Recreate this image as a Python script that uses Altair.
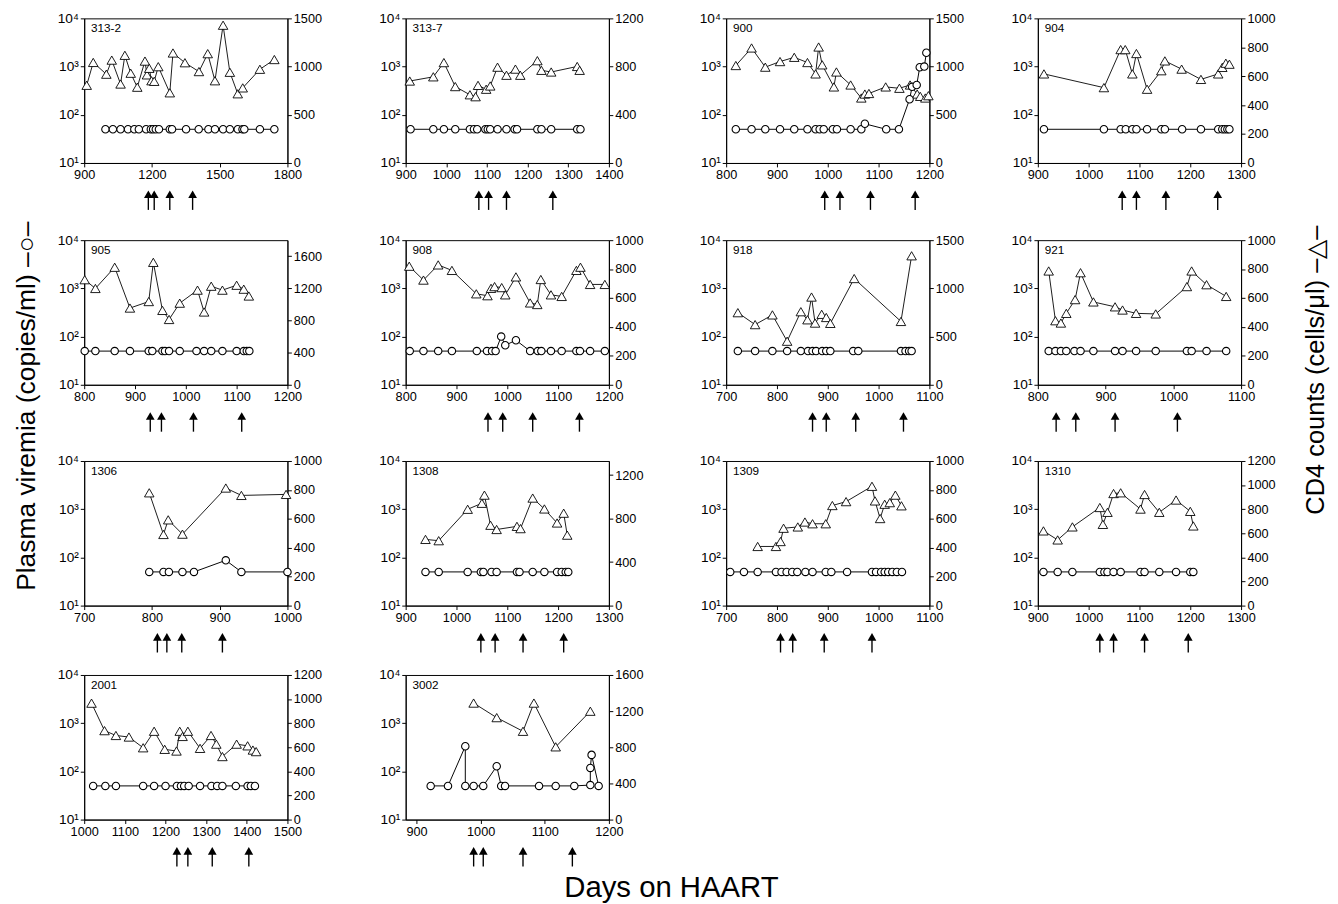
import altair as alt
import pandas as pd

FONT = "Liberation Sans"
W, H = 208, 148

LEFT_TITLE = "Plasma viremia (copies/ml) –○–"
RIGHT_TITLE = "CD4 counts (cells/μl) –△–"
BOTTOM_TITLE = "Days on HAART"

VIR_TICKS = [10, 100, 1000, 10000]

P313_2 = dict(
    name="313-2", x_domain=[900, 1800], x_ticks=[900, 1200, 1500, 1800],
    cd4_domain=[0, 1500], cd4_ticks=[0, 500, 1000, 1500],
    cd4_day=[911, 940, 998, 1022, 1061, 1080, 1106, 1135, 1169, 1178, 1188, 1198, 1210,
             1228, 1279, 1293, 1346, 1408, 1447, 1479, 1515, 1545, 1580, 1602, 1678, 1742],
    cd4=[806, 1043, 921, 1067, 819, 1117, 931, 786, 1057, 914, 982, 853, 847,
         999, 728, 1141, 1040, 948, 1134, 853, 1429, 941, 718, 779, 972, 1073],
    vir_day=[994, 1027, 1061, 1094, 1122, 1142, 1174, 1195, 1205, 1217, 1231, 1279,
             1289, 1351, 1407, 1450, 1479, 1515, 1545, 1580, 1601, 1609, 1678, 1742],
    vir=[50, 50, 50, 50, 50, 50, 50, 50, 50, 50, 50, 50,
         50, 50, 50, 50, 50, 50, 50, 50, 50, 50, 50, 50],
    arrows=[1184, 1210, 1279, 1380],
)

P313_7 = dict(
    name="313-7", x_domain=[900, 1400], x_ticks=[900, 1000, 1100, 1200, 1300, 1400],
    cd4_domain=[0, 1200], cd4_ticks=[0, 400, 800, 1200],
    cd4_day=[910, 968, 994, 1022, 1058, 1072, 1078, 1098, 1108, 1126, 1148, 1170, 1182,
             1224, 1234, 1258, 1322, 1328],
    cd4=[680, 715, 833, 634, 566, 550, 644, 612, 639, 795, 728, 779, 728,
         849, 769, 755, 801, 769],
    vir_day=[912, 968, 994, 1022, 1058, 1068, 1076, 1096, 1102, 1108, 1126, 1148, 1168,
             1174, 1224, 1234, 1258, 1322, 1330],
    vir=[50, 50, 50, 50, 50, 50, 50, 50, 50, 50, 50, 50, 50,
         50, 50, 50, 50, 50, 50],
    arrows=[1080, 1104, 1148, 1262],
)

P900 = dict(
    name="900", x_domain=[800, 1200], x_ticks=[800, 900, 1000, 1100, 1200],
    cd4_domain=[0, 1500], cd4_ticks=[0, 500, 1000, 1500],
    cd4_day=[819, 850, 877, 906, 934, 960, 976, 982, 989, 1012, 1017, 1045, 1066, 1073,
             1081, 1114, 1141, 1162, 1176, 1182, 1192, 1198],
    cd4=[1011, 1193, 994, 1052, 1096, 1042, 924, 1203, 1018, 789, 944, 809, 674, 715,
         721, 789, 775, 809, 715, 691, 674, 698],
    vir_day=[819, 850, 877, 906, 934, 960, 976, 984, 992, 1010, 1018, 1045, 1066, 1073,
             1115, 1140, 1161, 1166, 1175, 1181, 1190, 1194],
    vir=[50, 50, 50, 50, 50, 50, 50, 50, 50, 50, 50, 50, 50, 65,
         50, 50, 210, 380, 414, 970, 1000, 1940],
    arrows=[994, 1024, 1084, 1172],
)

P904 = dict(
    name="904", x_domain=[900, 1300], x_ticks=[900, 1000, 1100, 1200, 1300],
    cd4_domain=[0, 1000], cd4_ticks=[0, 200, 400, 600, 800, 1000],
    cd4_day=[912, 1030, 1063, 1072, 1086, 1094, 1115, 1143, 1150, 1183, 1221, 1255, 1263,
             1270, 1277],
    cd4=[616, 521, 784, 784, 616, 757, 510, 638, 706, 649, 578, 616, 661, 690, 683],
    vir_day=[912, 1030, 1063, 1073, 1086, 1094, 1115, 1143, 1150, 1184, 1221, 1255, 1263,
             1268, 1273, 1277],
    vir=[50, 50, 50, 50, 50, 50, 50, 50, 50, 50, 50, 50, 50, 50, 50, 50],
    arrows=[1066, 1094, 1152, 1254],
)

P905 = dict(
    name="905", x_domain=[800, 1200], x_ticks=[800, 900, 1000, 1100, 1200],
    cd4_domain=[0, 1800], cd4_ticks=[0, 400, 800, 1200, 1600],
    cd4_day=[801, 822, 860, 890, 927, 936, 954, 967, 988, 1023, 1036, 1050, 1072, 1100,
             1114, 1124],
    cd4=[1308, 1199, 1463, 955, 1036, 1524, 926, 813, 1016, 1178, 906, 1227, 1178, 1239,
         1190, 1105],
    vir_day=[801, 822, 860, 890, 927, 934, 954, 959, 967, 988, 1021, 1036, 1050, 1072,
             1100, 1114, 1120, 1125],
    vir=[50, 50, 50, 50, 50, 50, 50, 50, 50, 50, 50, 50, 50, 50, 50, 50, 50, 50],
    arrows=[930, 952, 1015, 1110],
)

P908 = dict(
    name="908", x_domain=[800, 1200], x_ticks=[800, 900, 1000, 1100, 1200],
    cd4_domain=[0, 1000], cd4_ticks=[0, 200, 400, 600, 800, 1000],
    cd4_day=[807, 835, 864, 891, 939, 961, 968, 975, 989, 996, 1017, 1045, 1059, 1066,
             1086, 1107, 1136, 1144, 1163, 1192],
    cd4=[820, 724, 829, 791, 629, 616, 667, 679, 672, 622, 746, 566, 555, 728,
         622, 611, 791, 813, 694, 694],
    vir_day=[808, 835, 864, 891, 940, 960, 970, 977, 988, 996, 1017, 1045, 1060, 1067,
             1086, 1107, 1136, 1143, 1163, 1192],
    vir=[50, 50, 50, 50, 50, 50, 50, 50, 100, 66, 84, 50, 50, 50,
         50, 50, 50, 50, 50, 50],
    arrows=[962, 991, 1050, 1142],
)

P918 = dict(
    name="918", x_domain=[700, 1100], x_ticks=[700, 800, 900, 1000, 1100],
    cd4_domain=[0, 1500], cd4_ticks=[0, 500, 1000, 1500],
    cd4_day=[723, 757, 791, 820, 847, 860, 868, 875, 888, 897, 905, 952, 1044, 1065],
    cd4=[748, 624, 725, 452, 758, 674, 910, 640, 731, 698, 637, 1102, 657, 1338],
    vir_day=[723, 757, 791, 820, 847, 861, 870, 877, 889, 897, 905, 950, 960, 1044,
             1053, 1060, 1065],
    vir=[50, 50, 50, 50, 50, 50, 50, 50, 50, 50, 50, 50, 50, 50, 50, 50, 50],
    arrows=[870, 897, 955, 1049],
)

P921 = dict(
    name="921", x_domain=[800, 1100], x_ticks=[800, 900, 1000, 1100],
    cd4_domain=[0, 1000], cd4_ticks=[0, 200, 400, 600, 800, 1000],
    cd4_day=[816, 826, 834, 842, 855, 863, 882, 914, 925, 945, 974, 1020, 1027, 1049, 1078],
    cd4=[787, 443, 427, 494, 589, 775, 573, 539, 517, 494, 490, 679, 787, 692, 611],
    vir_day=[816, 826, 834, 842, 854, 863, 882, 914, 925, 945, 974, 1020, 1027, 1049, 1078],
    vir=[50, 50, 50, 50, 50, 50, 50, 50, 50, 50, 50, 50, 50, 50, 50],
    arrows=[827, 856, 914, 1006],
)

P1306 = dict(
    name="1306", x_domain=[700, 1000], x_ticks=[700, 800, 900, 1000],
    cd4_domain=[0, 1000], cd4_ticks=[0, 200, 400, 600, 800, 1000],
    cd4_day=[796, 817, 824, 845, 909, 932, 998],
    cd4=[780, 492, 593, 494, 813, 762, 769],
    vir_day=[796, 817, 825, 845, 862, 909, 932, 1000],
    vir=[50, 50, 50, 50, 50, 87, 50, 50],
    arrows=[808, 822, 844, 904],
)

P1308 = dict(
    name="1308", x_domain=[900, 1300], x_ticks=[900, 1000, 1100, 1200, 1300],
    cd4_domain=[0, 1330], cd4_ticks=[0, 400, 800, 1200],
    cd4_day=[939, 965, 1022, 1050, 1055, 1067, 1079, 1119, 1126, 1150, 1173, 1198, 1211, 1218],
    cd4=[609, 597, 886, 941, 1016, 739, 700, 729, 708, 989, 889, 760, 850, 648],
    vir_day=[939, 965, 1022, 1048, 1053, 1069, 1079, 1119, 1124, 1150, 1173, 1198, 1207,
             1215, 1220],
    vir=[50, 50, 50, 50, 50, 50, 50, 50, 50, 50, 50, 50, 50, 50, 50],
    arrows=[1048, 1076, 1131, 1211],
)

P1309 = dict(
    name="1309", x_domain=[700, 1100], x_ticks=[700, 800, 900, 1000, 1100],
    cd4_domain=[0, 1000], cd4_ticks=[0, 200, 400, 600, 800, 1000],
    cd4_day=[762, 798, 807, 813, 841, 855, 870, 896, 909, 936, 987, 993, 1003, 1012,
             1022, 1033, 1045],
    cd4=[409, 409, 443, 535, 544, 578, 566, 566, 692, 719, 825, 724, 602, 701,
         712, 764, 690],
    vir_day=[708, 735, 762, 798, 809, 819, 830, 840, 856, 870, 896, 907, 938, 987, 995,
             1005, 1012, 1019, 1027, 1036, 1046],
    vir=[50, 50, 50, 50, 50, 50, 50, 50, 50, 50, 50, 50, 50, 50, 50,
         50, 50, 50, 50, 50, 50],
    arrows=[807, 831, 893, 987],
)

P1310 = dict(
    name="1310", x_domain=[900, 1300], x_ticks=[900, 1000, 1100, 1200, 1300],
    cd4_domain=[0, 1200], cd4_ticks=[0, 200, 400, 600, 800, 1000, 1200],
    cd4_day=[911, 939, 968, 1022, 1028, 1037, 1049, 1063, 1102, 1110, 1139, 1172, 1200, 1206],
    cd4=[620, 545, 653, 814, 674, 774, 930, 936, 801, 922, 774, 876, 782, 661],
    vir_day=[911, 939, 968, 1022, 1031, 1037, 1049, 1063, 1102, 1110, 1139, 1172, 1200, 1206],
    vir=[50, 50, 50, 50, 50, 50, 50, 50, 50, 50, 50, 50, 50, 50],
    arrows=[1022, 1049, 1110, 1196],
)

P2001 = dict(
    name="2001", x_domain=[1000, 1500], x_ticks=[1000, 1100, 1200, 1300, 1400, 1500],
    cd4_domain=[0, 1200], cd4_ticks=[0, 200, 400, 600, 800, 1000, 1200],
    cd4_day=[1018, 1050, 1078, 1110, 1145, 1172, 1198, 1227, 1235, 1242, 1255, 1285, 1312,
             1325, 1340, 1375, 1402, 1415, 1423],
    cd4=[966, 738, 698, 685, 596, 733, 583, 569, 733, 690, 733, 591, 698,
         626, 523, 626, 612, 577, 564],
    vir_day=[1022, 1052, 1078, 1145, 1172, 1200, 1228, 1238, 1246, 1257, 1285, 1313, 1327,
             1340, 1373, 1402, 1410, 1420],
    vir=[50, 50, 50, 50, 50, 50, 50, 50, 50, 50, 50, 50, 50, 50, 50, 50, 50, 50],
    arrows=[1228, 1255, 1315, 1405],
)

P3002 = dict(
    name="3002", x_domain=[883, 1200], x_ticks=[900, 1000, 1100, 1200],
    cd4_domain=[0, 1600], cd4_ticks=[0, 400, 800, 1200, 1600],
    cd4_day=[989, 1025, 1066, 1083, 1117, 1171],
    cd4=[1289, 1128, 977, 1289, 805, 1199],
    vir_day=[922, 949, 976, 976, 989, 1004, 1025, 1032, 1038, 1091, 1117, 1146, 1171,
             1171, 1173, 1184],
    vir=[50, 50, 333, 50, 50, 50, 128, 50, 50, 50, 50, 50, 52, 118, 220, 50],
    arrows=[989, 1004, 1066, 1143],
)

ROWS = [
    [P313_2, P313_7, P900, P904],
    [P905, P908, P918, P921],
    [P1306, P1308, P1309, P1310],
    [P2001, P3002],
]

LOG_LABEL = ("datum.value == 10 ? '10¹' : datum.value == 100 ? '10²' : "
             "datum.value == 1000 ? '10³' : '10⁴'")


def make_panel(p):
    xs = alt.X("day:Q",
               scale=alt.Scale(domain=p["x_domain"], nice=False, zero=False),
               axis=alt.Axis(values=p["x_ticks"], format="d", title=None, grid=False,
                             labelOverlap=False, labelFlush=False))
    cd4_df = pd.DataFrame({"day": p["cd4_day"], "cd4": p["cd4"],
                           "i": list(range(len(p["cd4"])))})
    vir_df = pd.DataFrame({"day": p["vir_day"], "vir": p["vir"],
                           "i": list(range(len(p["vir"])))})
    arr_df = pd.DataFrame({"day": p["arrows"]})

    cd4_layer = alt.Chart(cd4_df).mark_line(
        color="black", strokeWidth=0.9,
        point=alt.OverlayMarkDef(shape="triangle-up", filled=True, fill="white",
                                 stroke="black", strokeWidth=0.9, size=95, opacity=1),
    ).encode(
        x=xs,
        y=alt.Y("cd4:Q", scale=alt.Scale(domain=p["cd4_domain"], nice=False, zero=False),
                axis=alt.Axis(orient="right", values=p["cd4_ticks"], format="d",
                              title=None, grid=False, labelOverlap=False)),
        order=alt.Order("i:Q"),
    )
    vir_layer = alt.Chart(vir_df).mark_line(
        color="black", strokeWidth=1,
        point=alt.OverlayMarkDef(shape="circle", filled=True, fill="white",
                                 stroke="black", strokeWidth=1.1, size=58, opacity=1),
    ).encode(
        x=xs,
        y=alt.Y("vir:Q", scale=alt.Scale(type="log", domain=[10, 10000], nice=False),
                axis=alt.Axis(orient="left", values=VIR_TICKS, labelExpr=LOG_LABEL,
                              title=None, grid=False, labelOverlap=False,
                              labelFontSize=14)),
        order=alt.Order("i:Q"),
    )
    shafts = alt.Chart(arr_df).mark_rule(color="black", strokeWidth=1.4).encode(
        x=xs, y=alt.value(H + 35), y2=alt.value(H + 48))
    heads = alt.Chart(arr_df).mark_point(
        shape="triangle-up", filled=True, color="black", size=80, opacity=1
    ).encode(x=xs, y=alt.value(H + 32))
    label = alt.Chart(pd.DataFrame({"t": [p["name"]]})).mark_text(
        align="left", baseline="top", font=FONT, fontSize=12, color="black"
    ).encode(text="t:N", x=alt.value(7), y=alt.value(5))

    return alt.layer(cd4_layer, vir_layer, shafts, heads, label).resolve_scale(
        y="independent").properties(width=W, height=H)


def make_row(panels):
    ch = [make_panel(p) for p in panels]
    if len(ch) == 4:
        right = alt.hconcat(ch[2], ch[3], spacing=46)
        right = alt.hconcat(ch[1], right, spacing=55)
        return alt.hconcat(ch[0], right, spacing=56)
    return alt.hconcat(ch[0], ch[1], spacing=56)


r = [make_row(p) for p in ROWS]
grid = alt.vconcat(r[2], r[3], spacing=13)
grid = alt.vconcat(r[1], grid, spacing=20)
grid = alt.vconcat(r[0], grid, spacing=21)

left_lab = alt.Chart(pd.DataFrame({"t": [LEFT_TITLE]})).mark_text(
    angle=270, font=FONT, fontSize=27, color="black"
).encode(text="t:N", x=alt.value(12), y=alt.value(397)).properties(
    width=30, height=800, view=alt.ViewConfig(stroke="transparent"))

right_lab = alt.Chart(pd.DataFrame({"t": [RIGHT_TITLE]})).mark_text(
    angle=270, font=FONT, fontSize=26, color="black"
).encode(text="t:N", x=alt.value(30), y=alt.value(360)).properties(
    width=40, height=800, view=alt.ViewConfig(stroke="transparent"))

chart = alt.hconcat(left_lab, grid, right_lab, spacing=10).properties(
    title=alt.TitleParams(BOTTOM_TITLE, orient="bottom", anchor="middle", fontSize=30,
                          font=FONT, fontWeight="normal", color="black", offset=6),
    padding={"left": 5, "top": -8, "right": 0, "bottom": 0},
).configure_view(stroke="black", strokeWidth=1).configure_axis(
    labelFont=FONT, labelFontSize=13, labelColor="black", domainColor="black",
    tickColor="black", tickSize=4, labelPadding=2, domainWidth=1, tickWidth=1,
).configure_text(font=FONT)

chart.save("out.html", embed_options={"renderer": "svg", "actions": False})
